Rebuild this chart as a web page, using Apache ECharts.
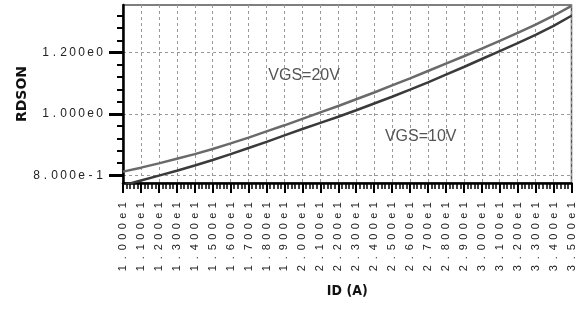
<!DOCTYPE html>
<html>
<head>
<meta charset="utf-8">
<script src="https://cdn.jsdelivr.net/npm/echarts@6/dist/echarts.min.js"></script>
<style>
html,body{margin:0;padding:0;background:#fff;}
#main{width:577px;height:320px;}
</style>
</head>
<body>
<div id="main"></div>
<script>
// ID (A) sweep
var idValues = [10,11,12,13,14,15,16,17,18,19,20,21,22,23,24,25,26,27,28,29,30,31,32,33,34,35];
// RDSON for each gate voltage
var rdsonVgs20 = [0.812,0.825,0.839,0.854,0.869,0.886,0.904,0.923,0.943,0.963,0.984,1.005,1.026,1.048,1.070,1.093,1.116,1.140,1.164,1.188,1.213,1.238,1.264,1.291,1.320,1.352];
var rdsonVgs10 = [0.767,0.783,0.799,0.815,0.832,0.850,0.869,0.889,0.909,0.930,0.951,0.971,0.991,1.012,1.034,1.056,1.079,1.103,1.128,1.153,1.179,1.205,1.231,1.258,1.287,1.320];
// y tick values
var yMajorTicks = [0.8, 1.0, 1.2];
var yMinorTicks = [0.84,0.88,0.92,0.96,1.04,1.08,1.12,1.16,1.24,1.28,1.32];
// curve captions (data coords)
var curveLabels = [
	{ text : 'VGS=20V', x : 18.1, y : 1.124 },
	{ text : 'VGS=10V', x : 24.6, y : 0.925 }
];

function expLabel(v) {
	return v.toExponential(3).replace('+', '');
}
function boxed(s) {
	return s.split('').map(function(c) {
		return '{c|' + c + '}';
	}).join('');
}
function pairs(ys) {
	return idValues.map(function(x, i) {
		return [ x, ys[i] ];
	});
}

var dom = document.getElementById('main');
var myChart = echarts.init(dom);

var option = {
	backgroundColor : '#fff',
	animation : false,
	grid : {
		left : 123,
		right : 5,
		top : 5,
		bottom : 137,
		show : true,
		borderColor : '#555',
		borderWidth : 1.5
	},
	xAxis : {
		type : 'value',
		min : 10,
		max : 35,
		interval : 1,
		name : 'ID (A)',
		nameLocation : 'middle',
		nameGap : 101,
		nameMoveOverlap : false,
		nameTextStyle : {
			fontFamily : "'DejaVu Sans Condensed', 'Liberation Sans Narrow', sans-serif",
			fontWeight : 'bold',
			fontSize : 14,
			color : '#111'
		},
		axisLine : {
			lineStyle : { color : '#000', width : 2.5 }
		},
		axisTick : {
			length : 10,
			lineStyle : { color : '#000', width : 2 }
		},
		minorTick : {
			show : true,
			splitNumber : 5,
			length : 6,
			lineStyle : { color : '#000', width : 1.5 }
		},
		axisLabel : {
			rotate : 90,
			margin : 17,
			formatter : function(v) {
				return boxed(expLabel(v));
			},
			rich : {
				c : { width : 10.5, align : 'center', fontSize : 11, color : '#222', fontFamily : 'Liberation Sans' }
			}
		},
		splitLine : {
			show : true,
			lineStyle : { color : '#999', width : 1, type : [3, 3] }
		}
	},
	yAxis : [ {
		type : 'value',
		min : 0.775,
		max : 1.355,
		name : 'RDSON',
		nameLocation : 'middle',
		nameGap : 94,
		nameRotate : 90,
		nameMoveOverlap : false,
		nameTextStyle : {
			fontFamily : 'DejaVu Sans',
			fontWeight : 'bold',
			fontSize : 14,
			color : '#111'
		},
		axisLine : {
			show : true,
			lineStyle : { color : '#000', width : 2.5 }
		},
		axisTick : {
			show : true,
			customValues : yMajorTicks,
			length : 14,
			lineStyle : { color : '#000', width : 3 }
		},
		axisLabel : {
			customValues : yMajorTicks,
			margin : 19,
			formatter : function(v) {
				return boxed(expLabel(v));
			},
			rich : {
				c : { width : 9, align : 'center', fontSize : 12, color : '#222', fontFamily : 'Liberation Sans' }
			}
		},
		splitLine : {
			show : true,
			lineStyle : { color : '#999', width : 1, type : [3, 3] }
		}
	}, {
		type : 'value',
		min : 0.775,
		max : 1.355,
		position : 'left',
		axisLine : { show : false },
		axisTick : {
			show : true,
			customValues : yMinorTicks,
			length : 6,
			lineStyle : { color : '#000', width : 2 }
		},
		axisLabel : { show : false },
		splitLine : { show : false }
	} ],
	series : [ {
		name : 'VGS=20V',
		type : 'line',
		data : pairs(rdsonVgs20),
		showSymbol : false,
		lineStyle : { color : '#6a6a6a', width : 2.5 }
	}, {
		name : 'VGS=10V',
		type : 'line',
		data : pairs(rdsonVgs10),
		showSymbol : false,
		lineStyle : { color : '#3a3a3a', width : 2.5 }
	} ]
};
myChart.setOption(option, true);

// captions placed from data coords
var texts = curveLabels.map(function(lb) {
	var p = myChart.convertToPixel({ xAxisIndex : 0, yAxisIndex : 0 }, [ lb.x, lb.y ]);
	return {
		type : 'text',
		x : p[0],
		y : p[1],
		style : {
			text : lb.text,
			fontFamily : 'Liberation Sans',
			fontSize : 16,
			fill : '#555',
			verticalAlign : 'middle',
			align : 'left'
		}
	};
});
myChart.setOption({ graphic : texts });
</script>
</body>
</html>
